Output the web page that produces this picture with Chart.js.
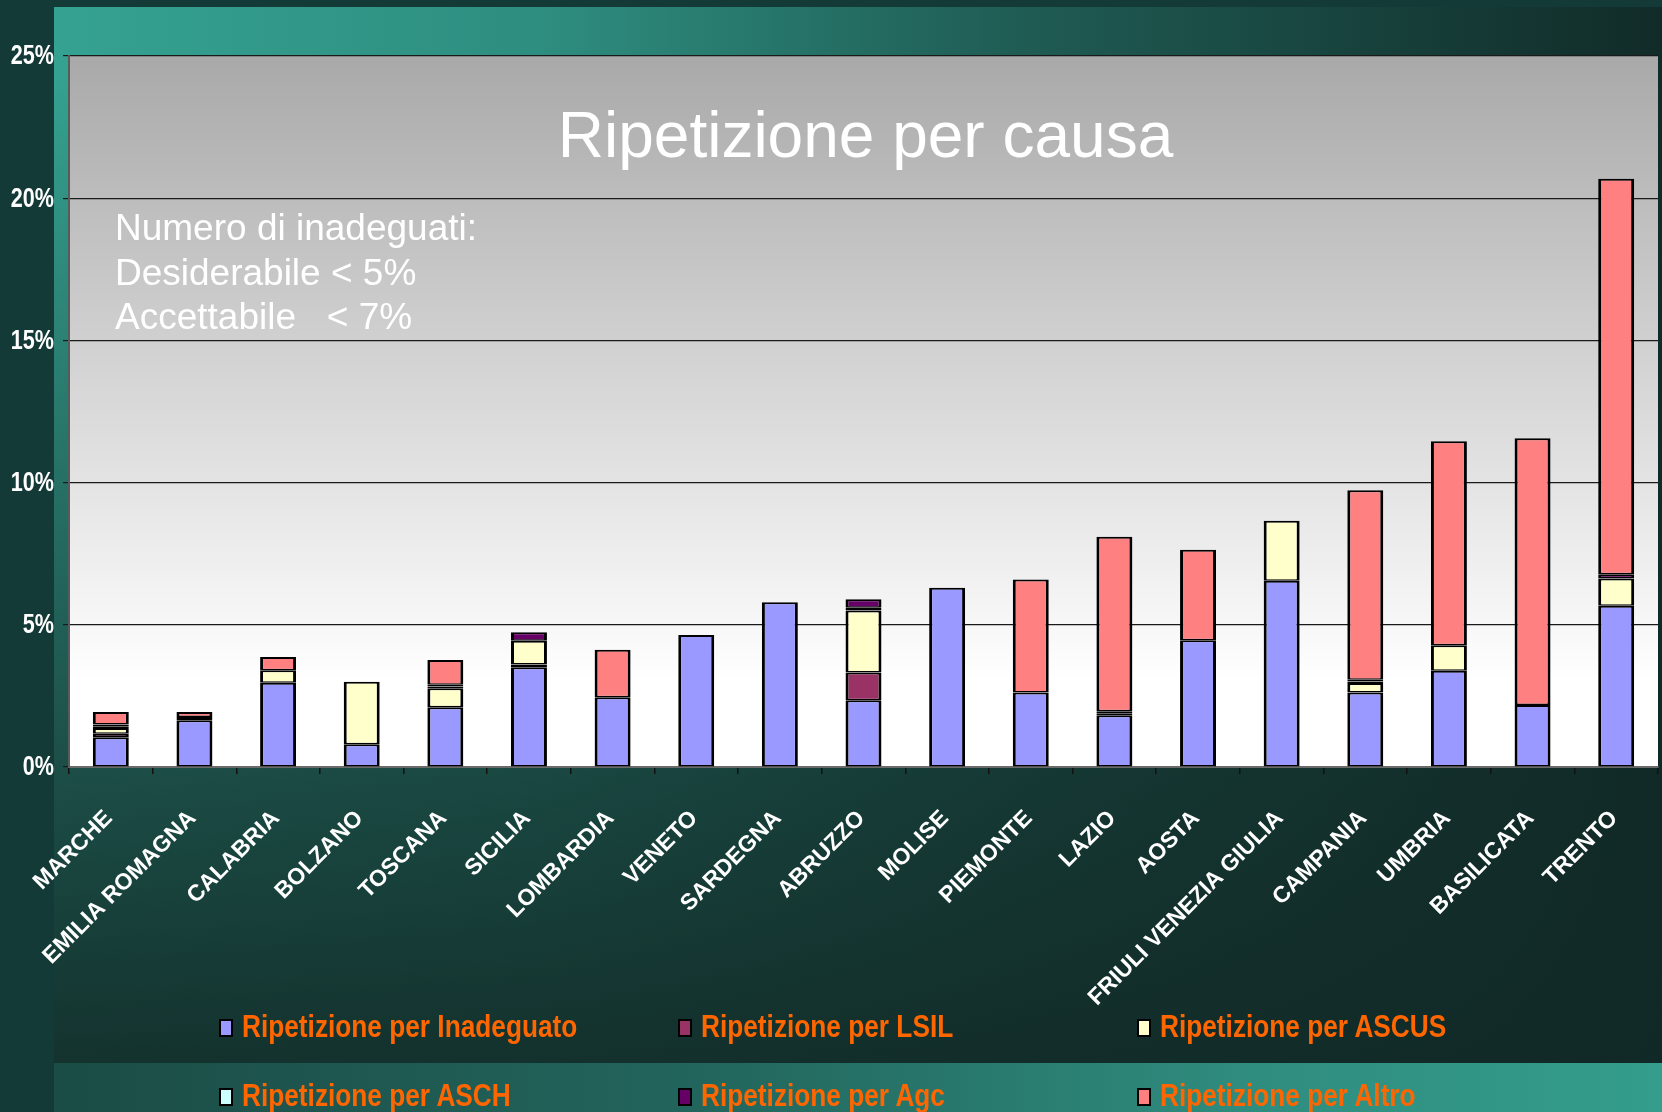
<!DOCTYPE html>
<html>
<head>
<meta charset="utf-8">
<script src="https://cdn.jsdelivr.net/npm/chart.js@4.4.0/dist/chart.umd.min.js"></script>
<style>
  html, body { margin: 0; padding: 0; }
  body {
    width: 1662px; height: 1112px; position: relative; overflow: hidden;
    background: #133a37;
    font-family: 'Liberation Sans', Arial, sans-serif;
  }
  #panel {
    position: absolute; left: 54px; top: 7px; width: 1608px; height: 1056px;
    background:
      linear-gradient(to bottom, rgba(17,41,38,0) 0%, rgba(17,41,38,0) 6%, rgba(17,41,38,0.7) 73%, rgba(17,41,38,0.92) 100%),
      linear-gradient(to right, #35a291 0%, #2e8e80 30%, #1f5c54 60%, #112b28 100%);
  }
  #band {
    position: absolute; left: 54px; top: 1063px; width: 1608px; height: 49px;
    background: linear-gradient(to right, #1b4c46 0%, #22655c 40%, #2f8d7f 75%, #349d8c 100%);
  }
  #chart { position: absolute; left: 0; top: 0; }
  .leg-item { position: absolute; height: 40px; white-space: nowrap; }
  .leg-box {
    position: absolute; left: 0; width: 10px; height: 14px;
    border: 2px solid #000;
  }
  .leg-text {
    position: absolute; left: 23px; top: 0;
    font-weight: bold; font-size: 32px; line-height: 32px;
    color: #ff6600; transform-origin: left center;
  }
</style>
</head>
<body>
<div id="panel"></div>
<div id="band"></div>
<canvas id="chart" width="1662" height="1112"></canvas>
<div id="legend"></div>

<script>
// ---- data ----
const regions = ['MARCHE', 'EMILIA ROMAGNA', 'CALABRIA', 'BOLZANO', 'TOSCANA', 'SICILIA', 'LOMBARDIA',
  'VENETO', 'SARDEGNA', 'ABRUZZO', 'MOLISE', 'PIEMONTE', 'LAZIO', 'AOSTA',
  'FRIULI VENEZIA GIULIA', 'CAMPANIA', 'UMBRIA', 'BASILICATA', 'TRENTO'];

// percentages per region
const inadeguato = [1.05, 1.64, 2.96, 0.80, 2.10, 3.51, 2.45, 4.64, 5.79, 2.35, 6.30, 2.62, 1.82, 4.46, 6.55, 2.62, 3.38, 2.18, 5.67];
const lsil       = [0.12, 0.12, null, null, null, 0.09, null, null, null, 0.97, null, null, null, null, null, null, null, null, null];
const ascus      = [0.20, null, 0.44, 2.20, 0.67, 0.84, null, null, null, 2.18, null, null, 0.07, null, 2.11, 0.33, 0.90, null, 0.96];
const asch       = [0.06, null, null, null, 0.06, null, null, null, null, 0.10, null, null, null, null, null, 0.06, null, null, null];
const agc        = [0.06, null, null, null, 0.06, 0.30, null, null, null, 0.30, null, null, 0.07, null, null, 0.06, null, null, 0.15];
const altro      = [0.44, 0.17, 0.47, null, 0.87, null, 1.67, null, null, null, null, 3.97, 6.14, 3.18, null, 6.66, 7.17, 9.38, 13.90];

const seriesNames = ['Ripetizione per Inadeguato', 'Ripetizione per LSIL', 'Ripetizione per ASCUS',
  'Ripetizione per ASCH', 'Ripetizione per Agc', 'Ripetizione per Altro'];
const seriesColors = ['#9999ff', '#993366', '#ffffcc', '#ccffff', '#660066', '#ff8080'];

const yTicks = [0, 5, 10, 15, 20, 25];
const chartTitle = 'Ripetizione per causa';
const noteLines = ['Numero di inadeguati:', 'Desiderabile < 5%', 'Accettabile   < 7%'];

// ---- font check (narrow bold look) ----
function hasFont(name) {
  const c = document.createElement('canvas').getContext('2d');
  c.font = 'bold 40px "' + name + '", monospace';
  const a = c.measureText('Ripetizione per ASCUS').width;
  c.font = 'bold 40px monospace';
  return a !== c.measureText('Ripetizione per ASCUS').width;
}
const narrowOk = hasFont('Liberation Sans Narrow');
const narrowFamily = narrowOk ? '"Liberation Sans Narrow", "Liberation Sans", Arial, sans-serif'
                              : '"Liberation Sans", Arial, sans-serif';
const narrowScale = narrowOk ? 1 : 0.8;

// ---- plugins ----
const plotBackground = {
  id: 'plotBackground',
  beforeDraw(chart) {
    const { ctx, chartArea: a } = chart;
    const g = ctx.createLinearGradient(0, a.top, 0, a.bottom);
    g.addColorStop(0, '#a9a9a9');
    g.addColorStop(0.88, '#ffffff');
    g.addColorStop(1, '#ffffff');
    ctx.save();
    ctx.fillStyle = g;
    ctx.fillRect(a.left, a.top, a.right - a.left, a.bottom - a.top);
    ctx.restore();
  }
};

// y tick labels drawn condensed, positioned by the y scale
const yLabels = {
  id: 'yLabels',
  afterDraw(chart) {
    const { ctx } = chart;
    const ys = chart.scales.y;
    ctx.save();
    ctx.fillStyle = '#ffffff';
    ctx.font = 'bold 27px ' + narrowFamily;
    ctx.textAlign = 'right';
    ctx.textBaseline = 'middle';
    ys.ticks.forEach(t => {
      const y = ys.getPixelForValue(t.value);
      ctx.save();
      ctx.translate(ys.right - 15, y + 1);
      ctx.scale(narrowScale, 1);
      ctx.fillText(t.value + '%', 0, 0);
      ctx.restore();
    });
    ctx.restore();
  }
};

const overlayText = {
  id: 'overlayText',
  afterDatasetsDraw(chart) {
    const { ctx, chartArea: a } = chart;
    ctx.save();
    ctx.fillStyle = '#ffffff';
    ctx.textBaseline = 'alphabetic';
    ctx.font = '64px "Liberation Sans", Arial, sans-serif';
    ctx.textAlign = 'center';
    ctx.fillText(chartTitle, (a.left + a.right) / 2 + 2, a.top + 101);
    ctx.font = '37px "Liberation Sans", Arial, sans-serif';
    ctx.textAlign = 'left';
    noteLines.forEach((t, i) => ctx.fillText(t, a.left + 46, a.top + 184 + i * 44.5));
    ctx.restore();
  }
};

// ---- chart ----
const allSeries = [inadeguato, lsil, ascus, asch, agc, altro];

const chart = new Chart(document.getElementById('chart'), {
  type: 'bar',
  data: {
    labels: regions,
    datasets: allSeries.map((vals, i) => ({
      label: seriesNames[i],
      data: vals,
      backgroundColor: seriesColors[i],
      borderColor: '#000000',
      borderWidth: { top: 2, bottom: 1.5, left: 3, right: 3 },
      borderSkipped: false,
      barPercentage: 0.43,
      categoryPercentage: 1.0
    }))
  },
  options: {
    responsive: false,
    animation: false,
    layout: { padding: { top: 56, right: 4, left: 0, bottom: 0 } },
    plugins: {
      legend: { display: false },
      tooltip: { enabled: false }
    },
    scales: {
      x: {
        stacked: true,
        afterFit: (s) => { s.height = 1112 - 767; s.paddingLeft = 0; s.paddingRight = 0; },
        grid: { drawOnChartArea: false, drawTicks: true, tickLength: 7, color: '#111111', lineWidth: 1.5 },
        border: { display: true, color: '#6a6a6a', width: 2 },
        ticks: {
          color: '#ffffff',
          font: { family: '"Liberation Sans", Arial, sans-serif', size: 23, weight: 'bold' },
          minRotation: 45, maxRotation: 45,
          padding: 31,
          labelOffset: -2,
          autoSkip: false
        }
      },
      y: {
        stacked: true,
        min: 0, max: 25,
        afterFit: (s) => { s.width = 69; s.paddingTop = 0; s.paddingBottom = 0; },
        afterBuildTicks: (s) => { s.ticks = yTicks.map(v => ({ value: v })); },
        grid: { color: '#1a1a1a', lineWidth: 1.2, tickLength: 6 },
        border: { display: true, color: '#5a5a5a', width: 2 },
        ticks: {
          color: 'rgba(0,0,0,0)',
          font: { family: '"Liberation Sans", Arial, sans-serif', size: 20, weight: 'bold' },
          padding: 9,
          callback: (v) => v + '%'
        }
      }
    }
  },
  plugins: [plotBackground, overlayText, yLabels]
});

// ---- legend (3 columns x 2 rows) ----
const legend = document.getElementById('legend');
const colX = [219, 678, 1137];
const rowBaseline = [1037, 1106];
chart.data.datasets.forEach((ds, i) => {
  const item = document.createElement('div');
  item.className = 'leg-item';
  item.style.left = colX[i % 3] + 'px';
  item.style.top = (rowBaseline[Math.floor(i / 3)] - 27) + 'px';
  const box = document.createElement('div');
  box.className = 'leg-box';
  box.style.background = ds.backgroundColor;
  box.style.top = '9px';
  const txt = document.createElement('div');
  txt.className = 'leg-text';
  txt.textContent = ds.label;
  txt.style.fontFamily = narrowFamily;
  if (!narrowOk) txt.style.transform = 'scaleX(0.82)';
  item.appendChild(box);
  item.appendChild(txt);
  legend.appendChild(item);
});
</script>
</body>
</html>
